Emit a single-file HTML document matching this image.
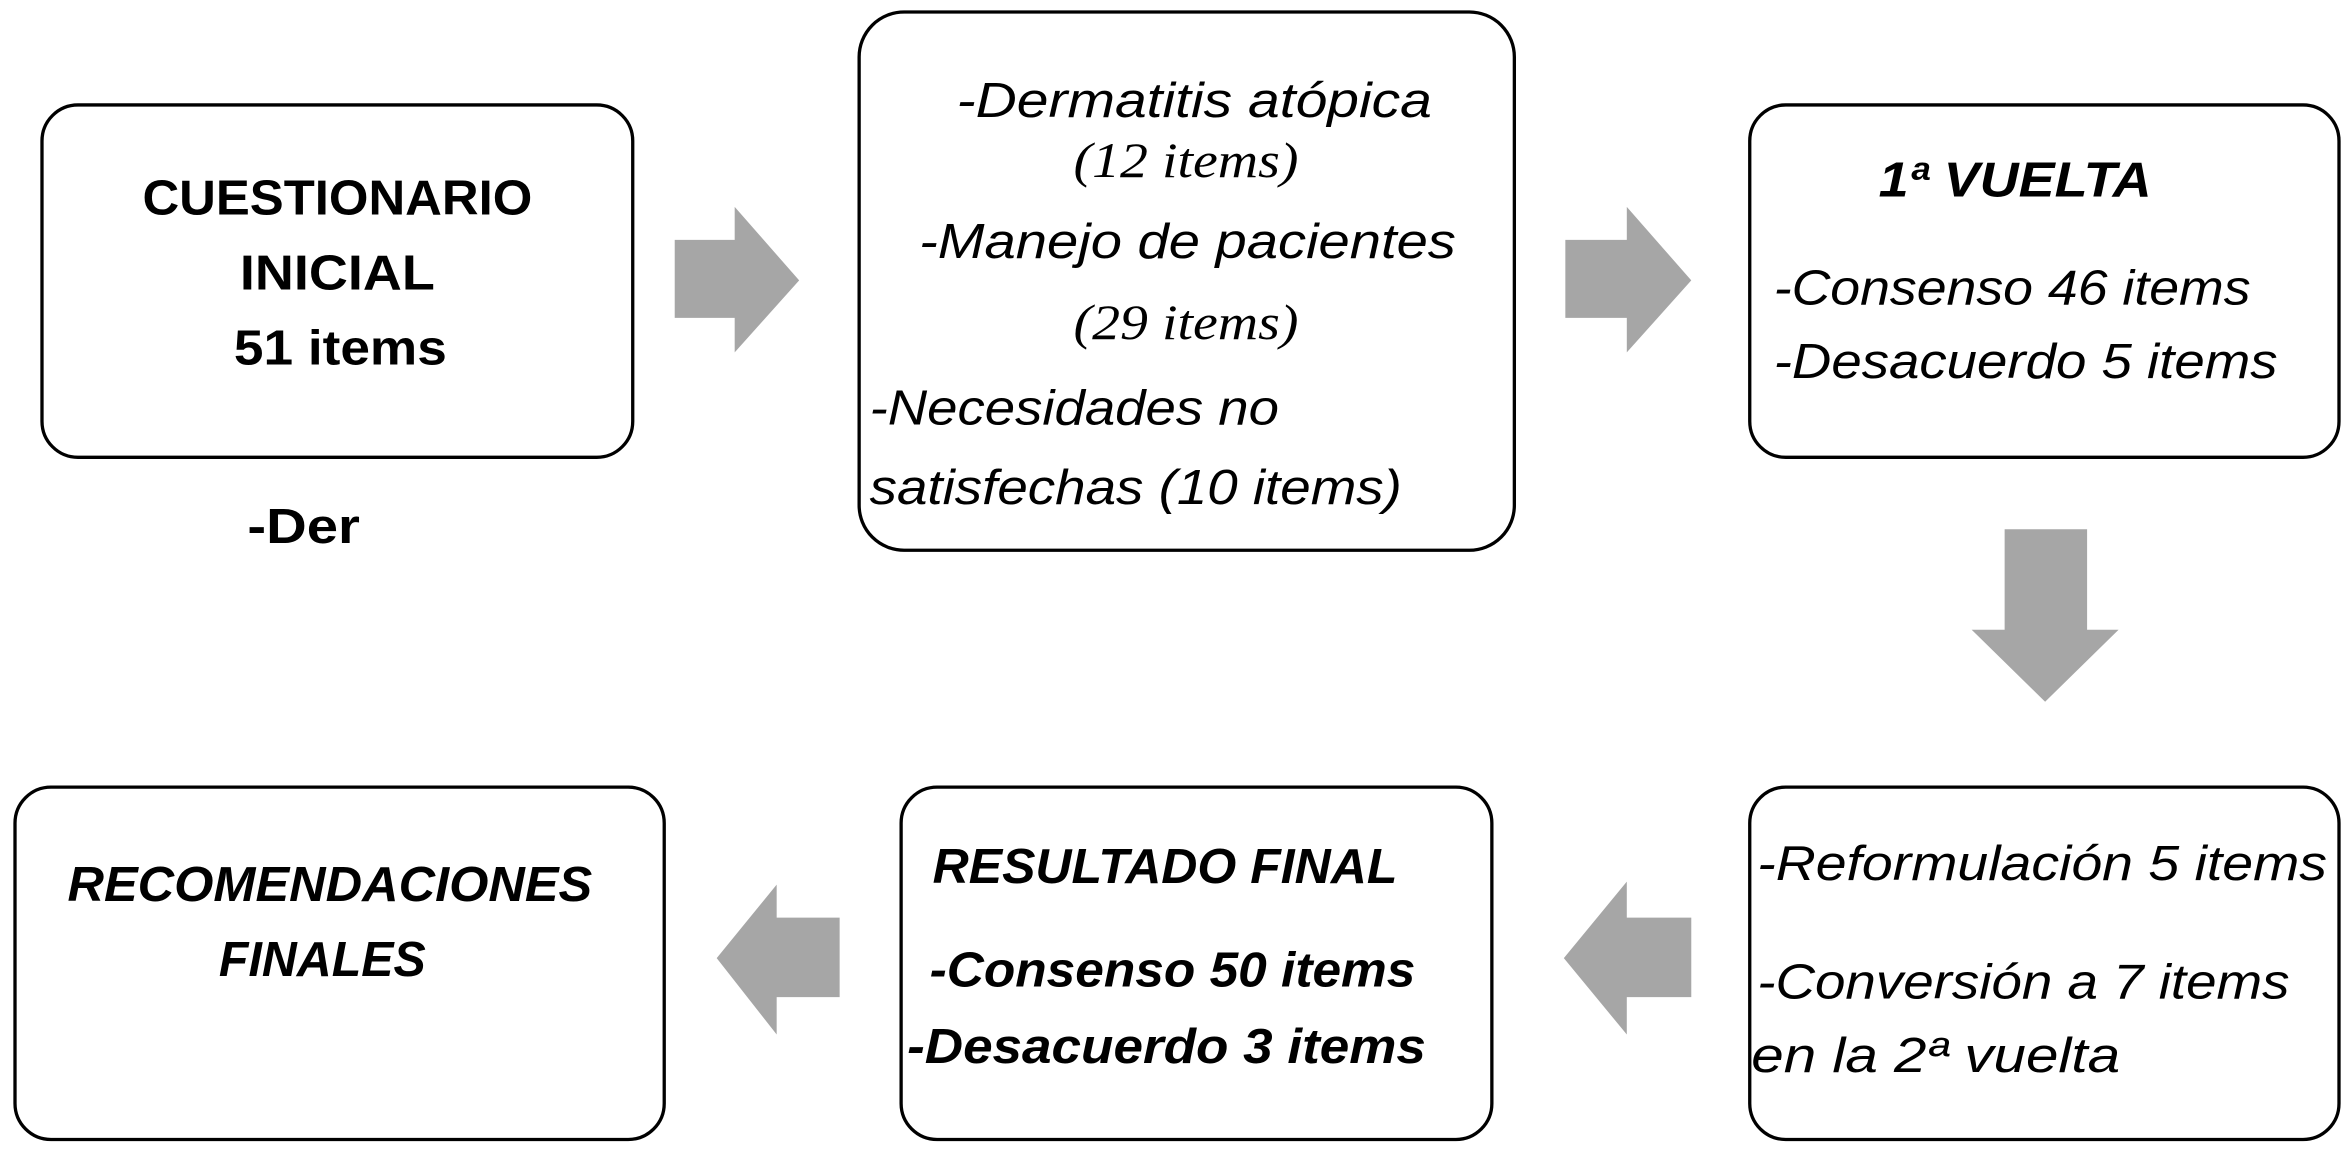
<!DOCTYPE html>
<html><head><meta charset="utf-8"><style>
html,body{margin:0;padding:0;background:#fff;}
svg{display:block;}
text{font-family:"Liberation Sans",sans-serif;fill:#000;}
.b{font-weight:bold;}
.i{font-style:italic;}
.s{font-family:"Liberation Serif",serif;}
</style></head><body>
<svg width="2351" height="1153" viewBox="0 0 1568 769" xmlns="http://www.w3.org/2000/svg">
<rect width="1568" height="769" fill="#fff"/>
<g fill="#fff" stroke="#000" stroke-width="2.2">
<rect x="28" y="70" width="394" height="235" rx="24"/>
<rect x="573" y="8" width="437" height="359" rx="30"/>
<rect x="1167" y="70" width="393" height="235" rx="24"/>
<rect x="1167" y="525" width="393" height="235" rx="24"/>
<rect x="601" y="525" width="394" height="235" rx="24"/>
<rect x="10" y="525" width="433" height="235" rx="24"/>
</g>
<g fill="#a6a6a6">
<polygon points="450,160 490,160 490,138 533,187 490,235 490,212 450,212"/>
<polygon points="1044,160 1085,160 1085,138 1128,187 1085,235 1085,212 1044,212"/>
<polygon points="1337,353 1392,353 1392,420 1413,420 1364,468 1315,420 1337,420"/>
<polygon points="1128,612 1085,612 1085,588 1043,639 1085,690 1085,665 1128,665"/>
<polygon points="560,612 518,612 518,590 478,639 518,690 518,665 560,665"/>
</g>
<g font-size="33">
<text class="b" x="225" y="143" text-anchor="middle" textLength="260" lengthAdjust="spacingAndGlyphs">CUESTIONARIO</text>
<text class="b" x="225" y="193" text-anchor="middle" textLength="130" lengthAdjust="spacingAndGlyphs">INICIAL</text>
<text class="b" x="227" y="243" text-anchor="middle" textLength="142" lengthAdjust="spacingAndGlyphs">51 items</text>
<text class="b" x="165" y="362" textLength="75" lengthAdjust="spacingAndGlyphs">-Der</text>

<text class="i" x="638" y="78" textLength="317" lengthAdjust="spacingAndGlyphs">-Dermatitis atópica</text>
<text class="i s" x="716" y="118" textLength="150" lengthAdjust="spacingAndGlyphs">(12 items)</text>
<text class="i" x="613" y="172" textLength="358" lengthAdjust="spacingAndGlyphs">-Manejo de pacientes</text>
<text class="i s" x="716" y="226" textLength="150" lengthAdjust="spacingAndGlyphs">(29 items)</text>
<text class="i" x="580" y="283" textLength="273" lengthAdjust="spacingAndGlyphs">-Necesidades no</text>
<text class="i" x="580" y="336" textLength="355" lengthAdjust="spacingAndGlyphs">satisfechas (10 items)</text>

<text class="b i" x="1253" y="131" textLength="182" lengthAdjust="spacingAndGlyphs">1ª VUELTA</text>
<text class="i" x="1183" y="203" textLength="318" lengthAdjust="spacingAndGlyphs">-Consenso 46 items</text>
<text class="i" x="1183" y="252" textLength="336" lengthAdjust="spacingAndGlyphs">-Desacuerdo 5 items</text>

<text class="i" x="1172" y="587" textLength="380" lengthAdjust="spacingAndGlyphs">-Reformulación 5 items</text>
<text class="i" x="1172" y="666" textLength="355" lengthAdjust="spacingAndGlyphs">-Conversión a 7 items</text>
<text class="i" x="1168" y="715" textLength="246" lengthAdjust="spacingAndGlyphs">en la 2ª vuelta</text>

<text class="b i" x="622" y="589" textLength="310" lengthAdjust="spacingAndGlyphs">RESULTADO FINAL</text>
<text class="b i" x="620" y="658" textLength="324" lengthAdjust="spacingAndGlyphs">-Consenso 50 items</text>
<text class="b i" x="605" y="709" textLength="346" lengthAdjust="spacingAndGlyphs">-Desacuerdo 3 items</text>

<text class="b i" x="220" y="601" text-anchor="middle" textLength="350" lengthAdjust="spacingAndGlyphs">RECOMENDACIONES</text>
<text class="b i" x="215" y="651" text-anchor="middle" textLength="138" lengthAdjust="spacingAndGlyphs">FINALES</text>
</g>
</svg>
</body></html>
